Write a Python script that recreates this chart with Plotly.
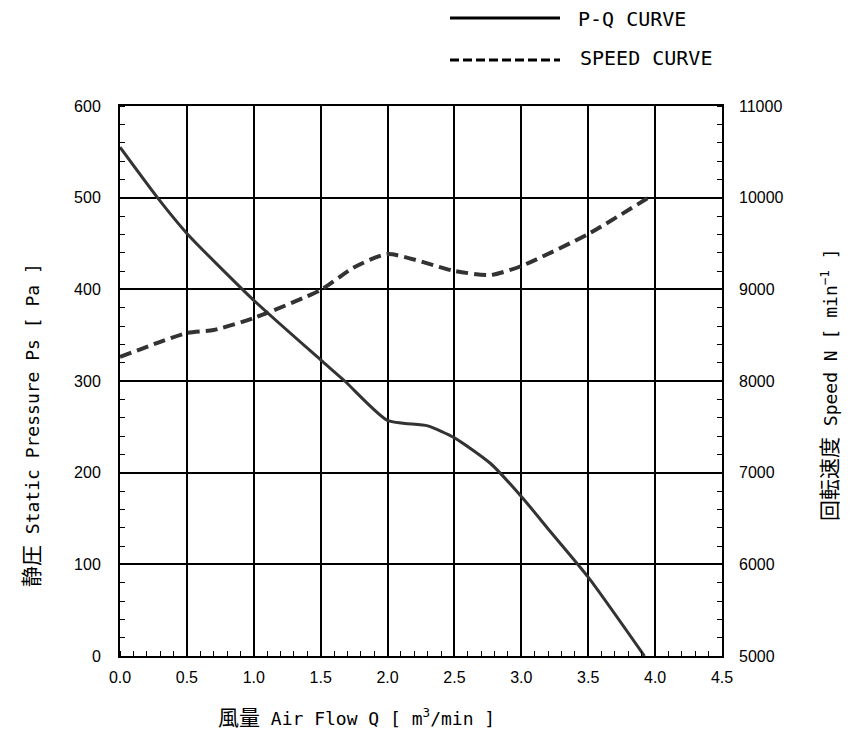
import plotly.graph_objects as go

# P-Q curve data
pq_flow = [0.0, 0.28, 0.5, 1.0, 1.5, 1.68, 2.0, 2.3, 2.5, 2.77, 3.0, 3.21, 3.5, 3.92]
pq_pressure = [555, 500, 461, 388, 323, 300, 257, 251, 238, 210, 174, 137, 86, 0]

# Speed curve data
sp_flow = [0.0, 0.5, 0.7, 1.0, 1.5, 1.74, 2.0, 2.5, 2.77, 3.0, 3.5, 3.95]
sp_speed = [8262, 8524, 8556, 8687, 8993, 9232, 9385, 9200, 9156, 9254, 9604, 10000]

x_ticks = [0.0, 0.5, 1.0, 1.5, 2.0, 2.5, 3.0, 3.5, 4.0, 4.5]
y_ticks = [0, 100, 200, 300, 400, 500, 600]
y2_ticks = [5000, 6000, 7000, 8000, 9000, 10000, 11000]

W, H = 853, 723
L, R, T, B = 112, 139, 98, 75
PW, PH = W - L - R, H - T - B


def px(xp):
    return (xp - 8 - L) / PW


def py(yp):
    return 1 - (yp - 8 - T) / PH


fig = go.Figure()
fig.add_trace(go.Scatter(x=pq_flow, y=pq_pressure, mode="lines", name="P-Q CURVE",
                         line=dict(color="#333333", width=3, shape="spline", smoothing=0.6)))
fig.add_trace(go.Scatter(x=sp_flow, y=sp_speed, mode="lines", name="SPEED CURVE", yaxis="y2",
                         line=dict(color="#333333", width=4, dash="12px,6px", shape="spline", smoothing=0.6)))

mono = "DejaVu Sans Mono, Noto Sans CJK JP"
tickfont = dict(family="Liberation Sans, Arial", size=16, color="#000")
titlefont = dict(family=mono, size=18, color="#000")
legfont = dict(family=mono, size=20, color="#000")


def cjk(s):
    return f"<span style='font-family:Noto Sans CJK JP;font-size:21px'>{s}</span>"


fig.update_layout(
    width=W, height=H,
    paper_bgcolor="white", plot_bgcolor="white",
    margin=dict(l=L, r=R, t=T, b=B),
    showlegend=False,
    xaxis=dict(range=[0, 4.5], tickvals=x_ticks, ticktext=[f"{v:.1f}" for v in x_ticks],
               tickfont=tickfont, showline=True, linecolor="#000", linewidth=2, mirror=True,
               showgrid=True, gridcolor="#000", gridwidth=2,
               ticks="", zeroline=False, ticklabelstandoff=6,
               minor=dict(dtick=0.1, ticks="inside", ticklen=5, tickcolor="#000", tickwidth=1, showgrid=False)),
    yaxis=dict(range=[0, 600], tickvals=y_ticks, tickfont=tickfont,
               showline=True, linecolor="#000", linewidth=2, mirror=True,
               showgrid=True, gridcolor="#000", gridwidth=2,
               ticks="", zeroline=False, ticklabelstandoff=14,
               minor=dict(dtick=20, ticks="inside", ticklen=5, tickcolor="#000", tickwidth=1, showgrid=False)),
    yaxis2=dict(range=[5000, 11000], tickvals=y2_ticks, ticktext=[str(v) for v in y2_ticks],
                tickfont=tickfont, overlaying="y", side="right",
                showgrid=False, showline=False, ticks="", zeroline=False, ticklabelstandoff=16,
                minor=dict(dtick=200, ticks="inside", ticklen=5, tickcolor="#000", tickwidth=1, showgrid=False)),
)

# axis titles
fig.add_annotation(text=cjk("風量") + " Air Flow Q [ m<sup>3</sup>/min ]", xref="paper", yref="paper",
                   x=px(356), y=py(716), xanchor="center", yanchor="middle", showarrow=False, font=titlefont)
fig.add_annotation(text=cjk("静圧") + " Static Pressure Ps [ Pa ]", xref="paper", yref="paper",
                   x=px(30), y=py(425), xanchor="center", yanchor="middle", textangle=-90,
                   showarrow=False, font=titlefont)
fig.add_annotation(text=cjk("回転速度") + " Speed N [ min<sup>−1</sup> ]", xref="paper", yref="paper",
                   x=px(828), y=py(385), xanchor="center", yanchor="middle", textangle=-90,
                   showarrow=False, font=titlefont)

# legend drawn manually
fig.add_shape(type="line", xref="paper", yref="paper", x0=px(450), x1=px(560),
              y0=py(18), y1=py(18), line=dict(color="#000", width=3))
fig.add_shape(type="line", xref="paper", yref="paper", x0=px(450), x1=px(560),
              y0=py(60), y1=py(60), line=dict(color="#000", width=3, dash="9px,4px"))
fig.add_annotation(text="P-Q CURVE", xref="paper", yref="paper", x=px(576), y=py(19),
                   xanchor="left", yanchor="middle", showarrow=False, font=legfont)
fig.add_annotation(text="SPEED CURVE", xref="paper", yref="paper", x=px(578), y=py(58),
                   xanchor="left", yanchor="middle", showarrow=False, font=legfont)

fig.write_html("out.html")
